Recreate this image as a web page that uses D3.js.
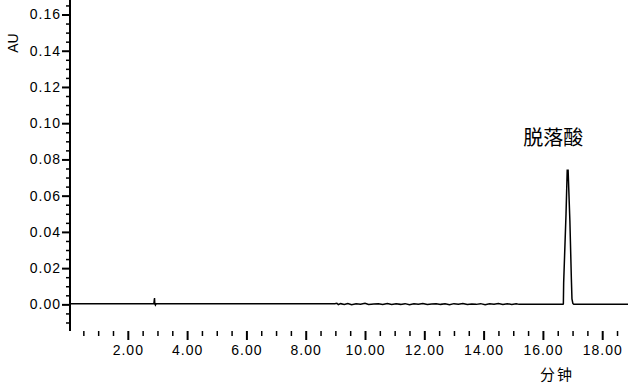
<!DOCTYPE html>
<html>
<head>
<meta charset="utf-8">
<script src="https://cdn.jsdelivr.net/npm/d3@7"></script>
<style>
  body { margin: 0; background: #fff; }
  text { font-family: "Liberation Sans", Arial, sans-serif; fill: #000; }
</style>
</head>
<body>
<div id="chart-area"></div>
<script>
// Chromatogram data (retention time in minutes, absorbance in AU)
let times = [0.05, 2.86, 2.88, 2.90, 2.91, 2.93, 2.95, 8.98,
  9.05, 9.10, 9.18, 9.30, 9.42, 9.55, 9.70, 9.85, 10.00, 10.12,
  10.30, 10.45, 10.60, 10.75, 10.90, 11.05, 11.20, 11.35, 11.50,
  11.65, 11.80, 11.95, 12.10, 12.25, 12.40, 12.55, 12.70, 12.85,
  13.00, 13.15, 13.30, 13.45, 13.60, 13.75, 13.90, 14.05, 14.20,
  14.35, 14.50, 14.65, 14.80, 14.95, 15.10, 15.20,
  16.68, 16.69, 16.70, 16.78, 16.82, 16.85, 16.91, 16.96, 16.98, 17.01, 17.04, 18.87]
let absorb = [0.0003, 0.0003, 0.0004, 0.0035, 0.0003, -0.0004, 0.0003, 0.0003,
  0.0006, -0.0001, 0.0004, 0.0000, 0.0005, -0.0002, 0.0003, 0.0001, 0.0006, -0.0001,
  0.0002, 0.0004, 0.0000, 0.0005, -0.0001, 0.0003, 0.0000, 0.0004, -0.0002,
  0.0003, 0.0001, 0.0005, -0.0001, 0.0002, 0.0004, 0.0000, 0.0003, -0.0002,
  0.0004, 0.0001, 0.0005, -0.0001, 0.0002, 0.0000, 0.0004, -0.0002, 0.0003,
  0.0001, 0.0005, 0.0000, 0.0004, -0.0001, 0.0003, 0.0000,
  0.0000, 0.0003, 0.0120, 0.0500, 0.0740, 0.0740, 0.0460, 0.0140, 0.0030, 0.0005, 0.0000, 0.0000]

let yMajor = [0, 0.02, 0.04, 0.06, 0.08, 0.10, 0.12, 0.14, 0.16]
let xMajor = [2, 4, 6, 8, 10, 12, 14, 16, 18]
let peakName = '脱落酸'
let peakTime = 16.82
let xTitle = '分钟'
let yTitle = 'AU'

let width = 628
let height = 387
let plotTop = 0
let plotBottom = 331
let plotLeft = 70

let svg = d3.select('#chart-area').append('svg')
  .attr('width', width)
  .attr('height', height)

// Scales
let x = d3.scaleLinear().domain([0.05, 18.87]).range([plotLeft, width])
let y = d3.scaleLinear().domain([-0.0147, 0.168]).range([plotBottom, plotTop])

// minor ticks every 0.005 AU / 0.5 min
let yMinor = d3.range(-10, 170, 5).map((v) => v / 1000)
  .filter((v) => Math.abs(Math.round(v * 50) - v * 50) > 1e-6)
let xMinor = d3.range(1, 38).map((v) => v / 2).filter((v) => v % 2 !== 0)

// Y axis
let yAxis = svg.append('g')
  .attr('transform', 'translate(' + plotLeft + ', 0)')
  .call(d3.axisLeft(y).tickValues(yMajor).tickSize(8).tickPadding(1)
    .tickFormat(d3.format('.2f')))
yAxis.select('.domain').remove()
yAxis.selectAll('.tick line').attr('stroke', '#000').attr('stroke-width', 2)
yAxis.selectAll('.tick text').style('font-size', '14px').style('letter-spacing', '1px').attr('fill', '#000')

svg.append('g')
  .attr('transform', 'translate(' + plotLeft + ', 0)')
  .call(d3.axisLeft(y).tickValues(yMinor).tickSize(4).tickFormat(''))
  .call((g) => g.select('.domain').remove())
  .selectAll('.tick line').attr('stroke', '#000').attr('stroke-width', 1.5)

svg.append('line')
  .attr('x1', plotLeft).attr('x2', plotLeft)
  .attr('y1', 0).attr('y2', plotBottom)
  .attr('stroke', '#000').attr('stroke-width', 2)

svg.append('text')
  .attr('transform', 'translate(18, 43) rotate(-90)')
  .style('text-anchor', 'middle')
  .style('font-size', '14px')
  .text(yTitle)

// X axis (ticks only)
let xAxis = svg.append('g')
  .attr('transform', 'translate(0, ' + plotBottom + ')')
  .call(d3.axisBottom(x).tickValues(xMajor).tickSize(9).tickPadding(5)
    .tickFormat(d3.format('.2f')))
xAxis.select('.domain').remove()
xAxis.selectAll('.tick line').attr('stroke', '#000').attr('stroke-width', 2)
xAxis.selectAll('.tick text').style('font-size', '14px').style('letter-spacing', '1px').attr('fill', '#000')

svg.append('g')
  .attr('transform', 'translate(0, ' + plotBottom + ')')
  .call(d3.axisBottom(x).tickValues(xMinor).tickSize(5).tickFormat(''))
  .call((g) => g.select('.domain').remove())
  .selectAll('.tick line').attr('stroke', '#000').attr('stroke-width', 1.5)

svg.append('text')
  .attr('x', 557)
  .attr('y', 380)
  .style('text-anchor', 'middle')
  .style('font-family', '"Noto Sans CJK SC", sans-serif')
  .style('font-size', '15px')
  .style('letter-spacing', '2px')
  .text(xTitle)

// Trace
let line = d3.line()
  .x((d, i) => x(times[i]))
  .y((d) => y(d))

svg.append('path')
  .attr('fill', 'none')
  .attr('stroke', '#000')
  .attr('stroke-width', 1.5)
  .attr('d', line(absorb))

// Peak label
svg.append('text')
  .attr('x', x(peakTime) - 14)
  .attr('y', 145)
  .style('text-anchor', 'middle')
  .style('font-family', '"Noto Sans CJK SC", sans-serif')
  .style('font-size', '20px')
  .text(peakName)
</script>
</body>
</html>
